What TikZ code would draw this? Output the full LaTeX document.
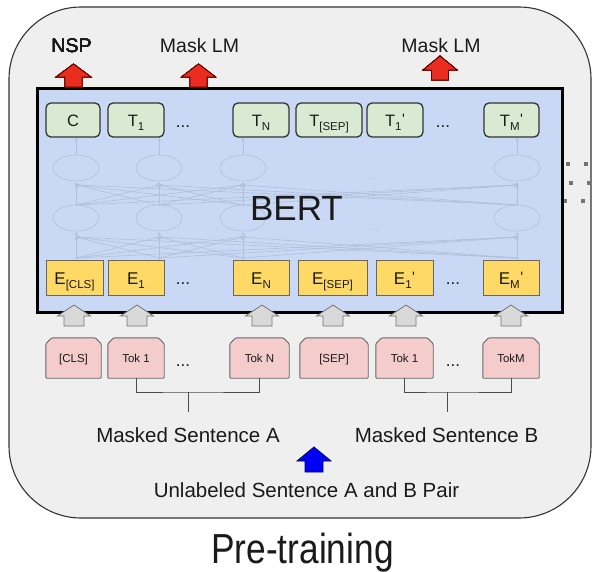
\documentclass[tikz,border=0pt]{standalone}
\usepackage{fontspec}
\usepackage{graphicx}
\setmainfont{Liberation Sans}
\usetikzlibrary{arrows.meta}
\definecolor{outerbg}{HTML}{EFEFEF}
\definecolor{bertbg}{HTML}{C9D9F5}
\definecolor{tgreen}{HTML}{D9EAD3}
\definecolor{eyellow}{HTML}{FFD966}
\definecolor{tpink}{HTML}{F4CCCC}
\definecolor{arrred}{HTML}{E92E20}
\definecolor{arrblue}{HTML}{0000F5}
\definecolor{arrgray}{HTML}{D9D9D9}
\definecolor{faintc}{HTML}{B2BED8}
\definecolor{txt}{HTML}{1A1A1A}
\newcommand\fs[1]{\fontsize{#1}{#1}\selectfont}
\newcommand\sbx[1]{\raisebox{-4.5pt}{\fs{11.5}#1}}
\newcommand\sbp[1]{\raisebox{-4.5pt}{\fs{11.5}#1}\kern0.5pt\raisebox{2pt}{\fs{15}\textquotesingle}}
\newcommand\blockarr[7]{% style,x,ytop,yhead,ybot,headw,shaftw
  \draw[#1] ({#2-#7/2},#5) -- ({#2-#7/2},#4) -- ({#2-#6/2},#4) -- (#2,#3) -- ({#2+#6/2},#4) -- ({#2+#7/2},#4) -- ({#2+#7/2},#5) -- cycle;}
\newcommand\tokbox[4]{% name,x,width,text
  \path node[tokshape, minimum width=#3pt] (#1) at (#2,358) {};
  \draw[tokdraw] ([yshift=-6pt]#1.north west) -- ([xshift=6pt]#1.north west) -- ([xshift=-6pt]#1.north east) -- ([yshift=-6pt]#1.north east) -- (#1.south east) -- (#1.south west) -- cycle;
  \node[toktext] (#1t) at (#1.center) {#4};}
\tikzset{
  tbox/.style={draw=black!80, fill=tgreen, rounded corners=5pt, line width=1.3pt, minimum height=34pt, inner sep=0pt, text height=12pt, text depth=0pt, font=\fs{16.5}},
  ebox/.style={draw=black!60, fill=eyellow, line width=0.9pt, minimum height=35pt, inner sep=0pt, text height=13pt, text depth=0pt, font=\fs{17}},
  tokshape/.style={minimum height=40pt, inner sep=0pt},
  tokdraw/.style={draw=black!60, fill=tpink, line width=0.9pt, rounded corners=1pt},
  toktext/.style={inner sep=0pt, text height=8pt, text depth=0pt, font=\fs{11.5}},
  dots/.style={inner sep=0pt, anchor=base, font=\fs{17}},
  lbl/.style={inner sep=0pt, anchor=base, font=\fs{19.5}},
  sent/.style={inner sep=0pt, anchor=base, font=\fs{20.5}},
  faintline/.style={draw=faintc, line width=0.6pt},
  fainttip/.style={faintline, -{Stealth[length=3pt,width=3pt]}},
  grayarr/.style={draw=black!55, fill=arrgray, line width=0.8pt},
  redarr/.style={draw=black!60!red, fill=arrred, line width=0.8pt},
  bluearr/.style={draw=blue!40!black, fill=arrblue, line width=0.8pt},
  bracket/.style={draw=black!70, line width=1pt},
}
\begin{document}
\begin{tikzpicture}[x=1pt,y=-1pt,every node/.style={text=txt}]
\useasboundingbox (0,0) rectangle (592,571);
\fill[white] (0,0) rectangle (592,571);
% outer panel
\draw[fill=outerbg, draw=black!80, line width=1.1pt, rounded corners=72pt] (9,7) rectangle (591,518);
% dotted fragment at right
\foreach \px/\py in {568/164,586/164,571/183,589/183,565/201,583/201}
  \fill[black!55] (\px-2,\py-2) rectangle (\px+2,\py+2);
% BERT box
\node[draw=black, fill=bertbg, line width=3pt, minimum width=525pt, minimum height=224pt, inner sep=0pt] (bert) at (299.5,200) {};
% faint network
\foreach \x in {76,159,243,517} {
  \draw[faintline] (\x,218) ellipse (23pt and 13pt);
  \draw[faintline] (\x,168) ellipse (23pt and 13pt);
  \draw[fainttip] (\x,260) -- (\x,232);
  \draw[fainttip] (\x,205) -- (\x,182);
  \draw[fainttip] (\x,155) -- (\x,138);
}
\foreach \a in {76,159,243,517} {
  \foreach \b in {76,159,243,517} {
    \draw[fainttip] (\a,258) -- (\b,237);
    \draw[fainttip] (\a,205) -- (\b,185);
  }
}
\node[inner sep=0pt, font=\fs{11}, text=faintc] (fd1) at (375,179) {...};
\node[inner sep=0pt, font=\fs{11}, text=faintc] (fd2) at (375,230) {...};
\node[inner sep=0pt, anchor=base, font=\fs{35}] (berttxt) at (296.5,220) {BERT};
% T row
\node[tbox, minimum width=54pt] (c) at (73,120) {C};
\node[tbox, minimum width=56pt] (t1) at (136,120) {T\sbx{1}};
\node[dots] (tdA) at (183,127) {...};
\node[tbox, minimum width=56pt] (tn) at (261,120) {T\sbx{N}};
\node[tbox, minimum width=66pt] (tsep) at (329,120) {T\sbx{[SEP]}};
\node[tbox, minimum width=56pt] (t1p) at (395,120) {T\sbp{1}};
\node[dots] (tdB) at (443,127) {...};
\node[tbox, minimum width=55pt] (tmp) at (511.5,120) {T\sbp{M}};
% E row
\node[ebox, minimum width=57pt] (ecls) at (74.5,277.5) {E\sbx{[CLS]}};
\node[ebox, minimum width=56pt] (e1) at (136,277.5) {E\sbx{1}};
\node[dots] (edA) at (183,284) {...};
\node[ebox, minimum width=56pt] (en) at (261,277.5) {E\sbx{N}};
\node[ebox, minimum width=69pt] (esep) at (332.5,277.5) {E\sbx{[SEP]}};
\node[ebox, minimum width=57pt] (e1p) at (404.5,277.5) {E\sbp{1}};
\node[dots] (edB) at (453,284) {...};
\node[ebox, minimum width=56pt] (emp) at (511,277.5) {E\sbp{M}};
% token row
\tokbox{kcls}{73.5}{55}{[CLS]}
\tokbox{k1}{136}{56}{Tok 1}
\node[dots] (kdA) at (183,366) {...};
\tokbox{kn}{259.5}{59}{Tok N}
\tokbox{ksep}{334}{68}{[SEP]}
\tokbox{k1p}{404.5}{57}{Tok 1}
\node[dots] (kdB) at (453,366) {...};
\tokbox{km}{511}{56}{TokM}
% gray arrows
\foreach \ax in {74,137,262,333,406,511}
  \blockarr{grayarr}{\ax}{305}{316}{326}{33}{20}
% red arrows
\blockarr{redarr}{73.5}{64}{77}{87}{35}{17}
\blockarr{redarr}{198.5}{64}{77}{87}{34}{17}
\blockarr{redarr}{440}{56}{70}{80}{34}{17}
% top labels
\node[lbl] (nsp) at (71.5,52) {NSP};
\node[lbl] (mlm1) at (199.5,52) {Mask LM};
\node[lbl] (mlm2) at (441,52) {Mask LM};
% brackets
\coordinate (bA) at (188,392);
\coordinate (bB) at (447,392);
\draw[bracket] (k1.south) |- (bA) -| (kn.south);
\draw[bracket] (bA) -- ++(0,20);
\draw[bracket] (k1p.south) |- (bB) -| (km.south);
\draw[bracket] (bB) -- ++(0,20);
\node[sent] (sa) at (188,442) {Masked Sentence A};
\node[sent] (sb) at (446.5,442) {Masked Sentence B};
% blue arrow
\blockarr{bluearr}{314}{447}{461}{472}{34}{18}
\node[sent] (pair) at (306.5,497) {Unlabeled Sentence A and B Pair};
\node[inner sep=0pt, anchor=base, font=\fs{42}] (pre) at (302.5,563) {\scalebox{0.84}[1]{Pre-training}};
\end{tikzpicture}
\end{document}
